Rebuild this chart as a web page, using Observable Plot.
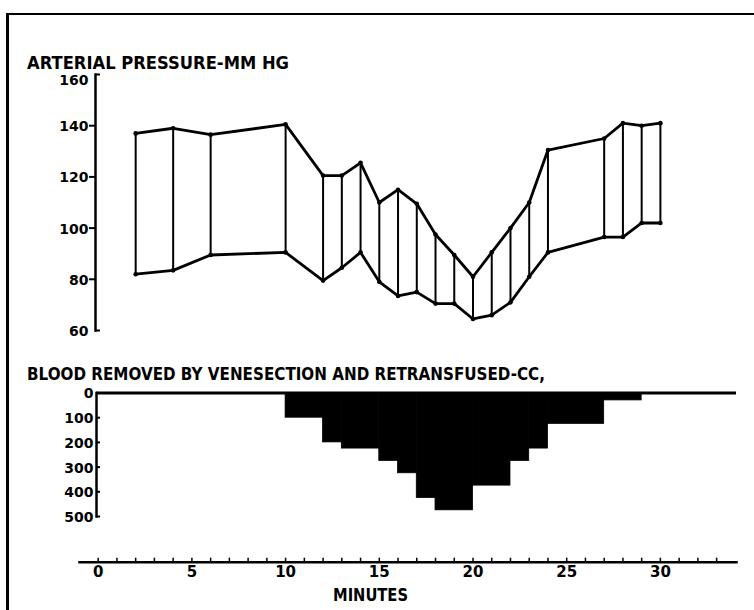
<!DOCTYPE html>
<html><head><meta charset="utf-8">
<script src="https://cdn.jsdelivr.net/npm/d3@7"></script>
<script src="https://cdn.jsdelivr.net/npm/@observablehq/plot@0.6"></script>
<style>
html,body{margin:0;padding:0;background:#fff;}
#page{position:relative;width:754px;height:610px;overflow:hidden;background:#fff;}
.panel{position:absolute;left:0;}
.title{position:absolute;font-family:"DejaVu Sans",sans-serif;font-weight:bold;font-size:18px;line-height:14px;white-space:nowrap;color:#000;transform-origin:0 0;}
#border{position:absolute;left:6px;top:13px;width:800px;height:700px;border-left:3px solid #000;border-top:2.5px solid #000;}
</style></head>
<body><div id="page">
<div id="border"></div>
<div id="top" class="panel" style="top:0"></div>
<div id="bottom" class="panel" style="top:350px"></div>
<div id="axis" class="panel" style="top:530px"></div>
<div class="title" id="t1" style="left:27px;top:55.5px">ARTERIAL PRESSURE-MM HG</div>
<div class="title" id="t2" style="left:27px;top:367px">BLOOD REMOVED BY VENESECTION AND RETRANSFUSED-CC,</div>
<div class="title" id="t3" style="left:333px;top:588px">MINUTES</div>
</div>
<script>
// ---- data ----
const minutes   = [2, 4, 6, 10, 12, 13, 14, 15, 16, 17, 18, 19, 20, 21, 22, 23, 24, 27, 28, 29, 30];
const systolic  = [137, 139, 136.5, 140.5, 120.5, 120.5, 125.5, 110, 115, 109.5, 97.5, 89.5, 81, 90.5, 100, 110, 130.5, 135, 141, 140, 141];
const diastolic = [82, 83.5, 89.5, 90.5, 79.5, 84.5, 90.5, 79, 73.5, 75, 70.5, 70.5, 64.5, 66, 71, 81, 90.5, 96.5, 96.5, 102, 102];

const bloodStart = [10, 12, 13, 15, 16, 17, 18, 20, 22, 23, 24, 27];
const bloodEnd   = [12, 13, 15, 16, 17, 18, 20, 22, 23, 24, 27, 29];
const bloodCC    = [100, 200, 225, 275, 325, 425, 475, 375, 275, 225, 125, 30];

const pressureTicks = [60, 80, 100, 120, 140, 160];
const bloodTicks = [0, 100, 200, 300, 400, 500];
const minuteLabels = [0, 5, 10, 15, 20, 25, 30];
const minuteTicks = [0,1,2,3,4,5,6,7,8,9,10,11,12,13,14,15,16,17,18,19,20,21,22,23,24,25,26,27,28,29,30,31,32,33];

// ---- layout ----
const W = 754;
const zeroPx = 97.7, pxPerMin = 18.74, rightPx = 736;
const xDomainFor = leftPx => [(leftPx - zeroPx) / pxPerMin, (rightPx - zeroPx) / pxPerMin];
const baseStyle = {background: "transparent", overflow: "visible", fontFamily: '"DejaVu Sans", sans-serif', fontWeight: "bold", color: "#000"};

const pressure = minutes.map((m, i) => ({m, sys: systolic[i], dia: diastolic[i]}));
const blood = bloodStart.map((s, i) => ({x1: s, x2: bloodEnd[i], cc: bloodCC[i]}));

const topPlot = Plot.plot({
  width: W, height: 340, marginLeft: 95, marginRight: W - rightPx, marginTop: 74, marginBottom: 10,
  style: baseStyle,
  x: {domain: xDomainFor(95), axis: null, label: null},
  y: {domain: [60, 160], label: null},
  marks: [
    Plot.frame({anchor: "left", strokeWidth: 2.5}),
    Plot.axisY(pressureTicks.filter(v => v > 60 && v < 160), {tickSize: 6, fill: "none", strokeWidth: 2}),
    Plot.axisY([60, 160], {tickSize: -5, fill: "none", strokeWidth: 2}),
    Plot.axisY(pressureTicks.filter(v => v < 160), {tickSize: 0, tickPadding: 7, fontSize: 14, dy: 1}),
    Plot.axisY(pressureTicks.filter(v => v === 160), {tickSize: 0, tickPadding: 7, fontSize: 14, dy: 6.5}),
    Plot.ruleX(pressure, {x: "m", y1: "dia", y2: "sys", strokeWidth: 2}),
    Plot.line(pressure, {x: "m", y: "sys", strokeWidth: 2.8}),
    Plot.line(pressure, {x: "m", y: "dia", strokeWidth: 2.8}),
    Plot.dot(pressure, {x: "m", y: "sys", r: 2.3, fill: "black"}),
    Plot.dot(pressure, {x: "m", y: "dia", r: 2.3, fill: "black"})
  ]
});
document.getElementById("top").appendChild(topPlot);

const bottomPlot = Plot.plot({
  width: W, height: 175, marginLeft: 96, marginRight: W - rightPx, marginTop: 42.5, marginBottom: 9,
  style: baseStyle,
  x: {domain: xDomainFor(96), axis: null, label: null},
  y: {domain: [0, 500], reverse: true, label: null},
  marks: [
    Plot.rect(blood, {x1: "x1", x2: "x2", y1: 0, y2: "cc", fill: "black", stroke: "black", strokeWidth: 0.8}),
    Plot.ruleY([0], {strokeWidth: 3}),
    Plot.frame({anchor: "left", strokeWidth: 2.5}),
    Plot.axisY(bloodTicks.filter(v => v > 0), {tickSize: -4, fill: "none", strokeWidth: 2}),
    Plot.axisY(bloodTicks, {tickSize: 0, tickPadding: 3, fontSize: 14, dy: 1})
  ]
});
document.getElementById("bottom").appendChild(bottomPlot);

const axisPlot = Plot.plot({
  width: W, height: 80, marginLeft: 79, marginRight: W - rightPx, marginTop: 10, marginBottom: 80 - 31.7,
  style: baseStyle,
  x: {domain: xDomainFor(79), label: null},
  marks: [
    Plot.frame({anchor: "bottom", strokeWidth: 2.5}),
    Plot.axisX(minuteTicks, {tickSize: -4, fill: "none", strokeWidth: 1.5}),
    Plot.axisX(minuteLabels, {tickSize: 0, tickPadding: 4, fontSize: 15})
  ]
});
document.getElementById("axis").appendChild(axisPlot);

function fit(id, w) {
  const el = document.getElementById(id);
  el.style.transform = "none";
  const r = el.getBoundingClientRect().width;
  el.style.transform = `scaleX(${w / r})`;
}
function fitAll() { fit("t1", 262); fit("t2", 518); fit("t3", 75); }
fitAll();
if (document.fonts && document.fonts.ready) document.fonts.ready.then(fitAll);
</script>
</body></html>
